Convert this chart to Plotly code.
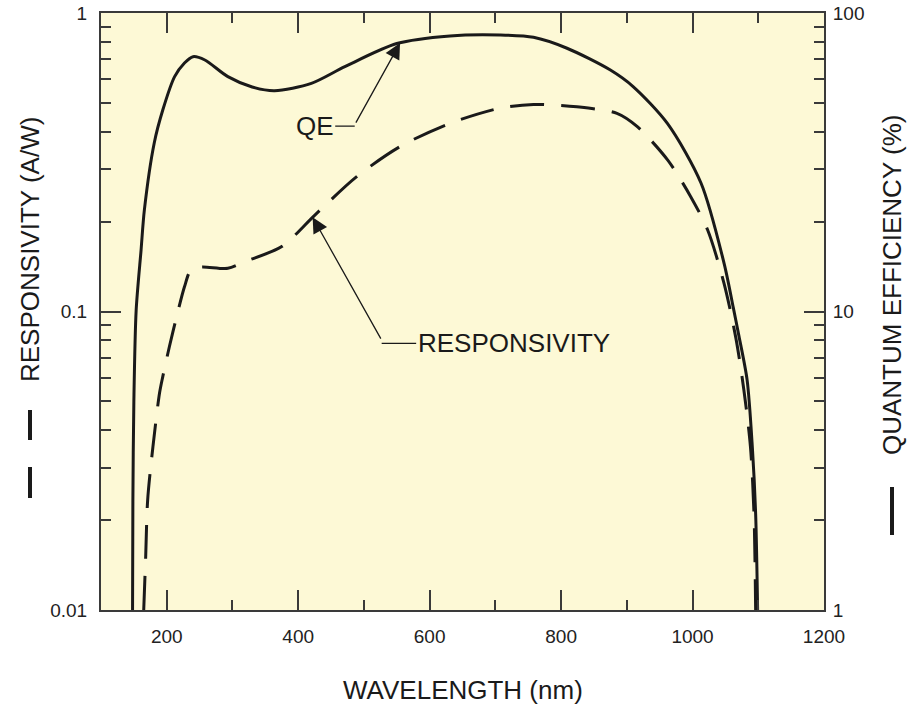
import numpy as np
import plotly.graph_objects as go

# ---------------- data ----------------
qe_nm = [148, 148.5, 150, 153.5, 161, 166, 181, 194, 212, 227, 240, 258, 293, 330,
         364, 420, 471, 550, 631, 707, 758, 809, 875, 910, 962, 1013, 1048,
         1062, 1070, 1083, 1091, 1096, 1099]
qe_pct = [1.0, 2.3, 5.0, 10.1, 16.1, 21.9, 36.7, 47.3, 61.2, 68.0, 71.4, 69.6, 61.2, 56.5,
          54.9, 58.1, 66.1, 79.0, 83.8, 84.4, 82.9, 76.2, 64.4, 56.6, 42.6, 26.9, 14.5,
          10.3, 8.4, 5.9, 3.5, 2.1, 1.0]

resp_nm = [165, 168, 171, 179, 189, 194, 204, 217, 227, 237, 253, 293, 319, 375, 425,
           489, 555, 631, 707, 758, 824, 885, 916, 962, 997, 1023, 1048, 1066, 1078,
           1088, 1093.5, 1096]
resp_aw = [0.01, 0.0151, 0.0234, 0.0352, 0.0532, 0.0605, 0.0762, 0.100, 0.121, 0.138,
           0.141, 0.1395, 0.147, 0.165, 0.21, 0.283, 0.357, 0.427, 0.48, 0.494, 0.485,
           0.461, 0.416, 0.322, 0.243, 0.1875, 0.124, 0.0813, 0.0548, 0.0354, 0.021, 0.01]

x_ticks = [200, 400, 600, 800, 1000, 1200]
x_tick_labels = ["200", "400", "600", "800", "1000", "1200"]
left_ticks = [0.01, 0.1, 1]
left_tick_labels = ["0.01", "0.1", "1"]
right_ticks = [1, 10, 100]
right_tick_labels = ["1", "10", "100"]

FONT = "Liberation Sans, Arial, Helvetica, sans-serif"
INK = "#1a1a1a"
AXC = "#3a3a3a"
BG = "#fdf9d6"

W, H = 912, 705
L, R, T, B = 101, 88, 13, 95
pw, ph = W - L - R, H - T - B


def px_x(p):
    return (p - L) / pw


def px_y(p):
    return (H - B - p) / ph


fig = go.Figure()
fig.add_trace(go.Scatter(x=qe_nm, y=qe_pct, yaxis="y2", mode="lines",
                         line=dict(color=INK, width=3, shape="spline", smoothing=0.8),
                         hoverinfo="skip", showlegend=False))
fig.add_trace(go.Scatter(x=resp_nm, y=resp_aw, yaxis="y", mode="lines",
                         line=dict(color=INK, width=3, dash="34px,17px",
                                   shape="spline", smoothing=0.8),
                         hoverinfo="skip", showlegend=False))

tickfont = dict(family=FONT, size=19, color="#222")
minor_y = dict(dtick="D1", ticks="inside", ticklen=10, tickwidth=2,
               tickcolor=AXC, showgrid=False)
fig.update_layout(
    width=W, height=H,
    autosize=False,
    margin=dict(l=L, r=R, t=T, b=B, pad=0, autoexpand=False),
    paper_bgcolor="white", plot_bgcolor=BG,
    font=dict(family=FONT, color=INK),
    xaxis=dict(range=[100, 1200], tickvals=x_ticks, ticktext=x_tick_labels,
               ticks="inside", ticklen=20, tickwidth=2, tickcolor=AXC,
               minor=dict(dtick=100, ticks="inside", ticklen=10, tickwidth=2,
                          tickcolor=AXC, showgrid=False),
               showline=True, linewidth=2, linecolor=AXC, mirror="ticks",
               showgrid=False, zeroline=False, tickfont=tickfont,
               ticklabelstandoff=8, automargin=False),
    yaxis=dict(type="log", range=[-2, 0], tickvals=left_ticks, ticktext=left_tick_labels,
               ticks="inside", ticklen=20, tickwidth=2, tickcolor=AXC,
               minor=minor_y,
               showline=True, linewidth=2, linecolor=AXC, mirror=True,
               showgrid=False, zeroline=False, tickfont=tickfont,
               ticklabelstandoff=8, automargin=False),
    yaxis2=dict(type="log", range=[0, 2], overlaying="y", side="right",
                tickvals=right_ticks, ticktext=right_tick_labels,
                ticks="inside", ticklen=20, tickwidth=2, tickcolor=AXC,
                minor=minor_y,
                showline=True, linewidth=2, linecolor=AXC,
                showgrid=False, zeroline=False, tickfont=tickfont,
                ticklabelstandoff=3, automargin=False),
)

# arrow tips sit on the curves
qe_tip_x = 555
qe_tip_y = np.interp(qe_tip_x, qe_nm, np.log10(qe_pct))
r_tip_x = 422
r_tip_y = np.interp(r_tip_x, resp_nm, np.log10(resp_aw))

ann_font = dict(family=FONT, size=26, color=INK)
anns = [
    # QE arrow
    dict(x=qe_tip_x, y=qe_tip_y, xref="x", yref="y2", text="", showarrow=True,
         ax=-45, ay=81, axref="pixel", ayref="pixel",
         arrowhead=2, arrowsize=2.4, arrowwidth=1.3, arrowcolor=INK),
    dict(x=486, y=1.621, xref="x", yref="y2", text="QE", font=ann_font, showarrow=True,
         ax=-40, ay=0, arrowhead=0, arrowwidth=1.3, arrowcolor=INK, standoff=0),
    # Responsivity arrow
    dict(x=r_tip_x, y=r_tip_y, xref="x", yref="y", text="", showarrow=True,
         ax=69, ay=123, axref="pixel", ayref="pixel",
         arrowhead=2, arrowsize=2.4, arrowwidth=1.3, arrowcolor=INK),
    dict(x=527, y=-1.1065, xref="x", yref="y", text="RESPONSIVITY", font=ann_font,
         showarrow=True, ax=132, ay=0, arrowhead=0, arrowwidth=1.3, arrowcolor=INK,
         standoff=0),
    # axis titles
    dict(x=0.5, y=px_y(690), xref="paper", yref="paper", text="WAVELENGTH (nm)",
         showarrow=False, font=ann_font, xanchor="center", yanchor="middle"),
    dict(x=px_x(30), y=px_y(250), xref="paper", yref="paper", text="RESPONSIVITY (A/W)",
         showarrow=False, font=ann_font, textangle=-90, xanchor="center", yanchor="middle"),
    dict(x=px_x(892), y=px_y(285), xref="paper", yref="paper",
         text="QUANTUM EFFICIENCY (%)", showarrow=False, font=ann_font, textangle=-90,
         xanchor="center", yanchor="middle"),
]
fig.update_layout(annotations=anns)

# line-style keys beside the axis titles
shapes = [
    dict(type="line", xref="paper", yref="paper", x0=px_x(30), x1=px_x(30),
         y0=px_y(410), y1=px_y(440), line=dict(color=INK, width=4)),
    dict(type="line", xref="paper", yref="paper", x0=px_x(30), x1=px_x(30),
         y0=px_y(467), y1=px_y(498), line=dict(color=INK, width=4)),
    dict(type="line", xref="paper", yref="paper", x0=px_x(892), x1=px_x(892),
         y0=px_y(487), y1=px_y(535), line=dict(color=INK, width=4)),
]
fig.update_layout(shapes=shapes)

fig.write_html("out.html",
               config={"displayModeBar": False, "staticPlot": True},
               post_script="document.body.style.margin='0';"
                           "document.body.style.overflow='hidden';")
